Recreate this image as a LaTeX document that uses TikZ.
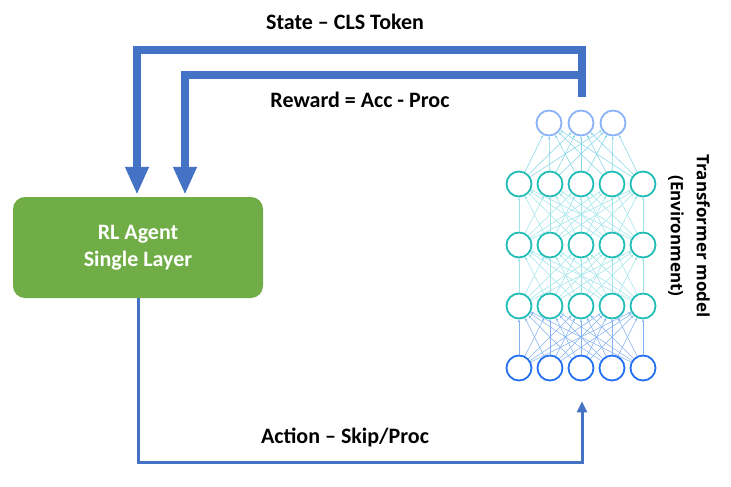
\documentclass[tikz,border=0pt]{standalone}
\usepackage{fontspec}
\setmainfont{Carlito}
\newfontfamily\envfont{Open Sans}
\usetikzlibrary{positioning,arrows.meta}
\definecolor{agentgreen}{HTML}{70AD47}
\definecolor{linkblue}{HTML}{4472C4}
\definecolor{topblue}{HTML}{8AB2F8}
\definecolor{midteal}{HTML}{1FBDB6}
\definecolor{botblue}{HTML}{2470F2}
\definecolor{wirecyan}{HTML}{86D6E6}
\definecolor{wireteal}{HTML}{A0E4EA}
\definecolor{wireblue}{HTML}{84B2F0}

\begin{document}
\begin{tikzpicture}[x=1pt,y=-1pt]
  \tikzstyle{every node}=[align=center, font=\bfseries\fontsize{22}{27}\selectfont]
  \tikzstyle{neuron}=[circle, draw, line width=1.8pt, minimum size=25pt, inner sep=0pt]
  \tikzstyle{wire}=[line width=0.55pt, -{Stealth[length=3pt,width=2.5pt]}]
  \tikzstyle{feedback}=[linkblue, line width=8pt, -{Triangle[width=22pt,length=28pt]}]
  \tikzstyle{action}=[linkblue, line width=3pt, -{Triangle[width=10pt,length=11pt]}]
  \useasboundingbox (0,0) rectangle (731,487);

  % agent
  \node [fill=agentgreen, text=white, rounded corners=12pt, minimum width=250pt, minimum height=101pt] (agent) at (138,247.5) {RL Agent\\Single Layer};

  % network
  \foreach \i/\x in {1/549,2/581,3/613}
    \node [neuron, topblue] (t\i) at (\x,123) {};
  \foreach \i/\x in {1/519,2/550,3/581,4/612,5/643} {
    \node [neuron, midteal] (a\i) at (\x,184) {};
    \node [neuron, midteal] (b\i) at (\x,245) {};
    \node [neuron, midteal] (c\i) at (\x,306) {};
    \node [neuron, botblue] (d\i) at (\x,368) {};
  }
  \foreach \i in {1,...,5} {
    \foreach \j in {1,2,3}
      \draw [wire, wirecyan] (a\i) -- (t\j);
    \foreach \j in {1,...,5} {
      \draw [wire, wireteal] (b\i) -- (a\j);
      \draw [wire, wireteal] (c\i) -- (b\j);
      \draw [wire, wireblue] (d\i) -- (c\j);
    }
  }
  \node [font=\envfont\bfseries\fontsize{17}{26}\selectfont, rotate=-90] (env) at (689,236) {Transformer model\\(Environment)};

  % connectors
  \coordinate (tap) at (582,97);
  \coordinate (sIn) at ([xshift=-1pt]agent.north);
  \coordinate (rIn) at ([xshift=47pt]agent.north);
  \coordinate (aIn) at ([xshift=1pt,yshift=-20pt]d3.south);
  \draw [feedback] (tap) -- (tap |- 0,50) -- (sIn |- 0,50) -- ([yshift=2pt]sIn);
  \draw [feedback] (tap) -- (tap |- 0,75) -- (rIn |- 0,75) -- ([yshift=2pt]rIn);
  \draw [action] (agent.south) -- (agent.south |- 0,462) -- (aIn |- 0,462) -- (aIn);

  \node (state) at (345,22) {State -- CLS Token};
  \node (reward) at (360,100) {Reward = Acc - Proc};
  \node (act) at (345,437) {Action -- Skip/Proc};
\end{tikzpicture}
\end{document}
